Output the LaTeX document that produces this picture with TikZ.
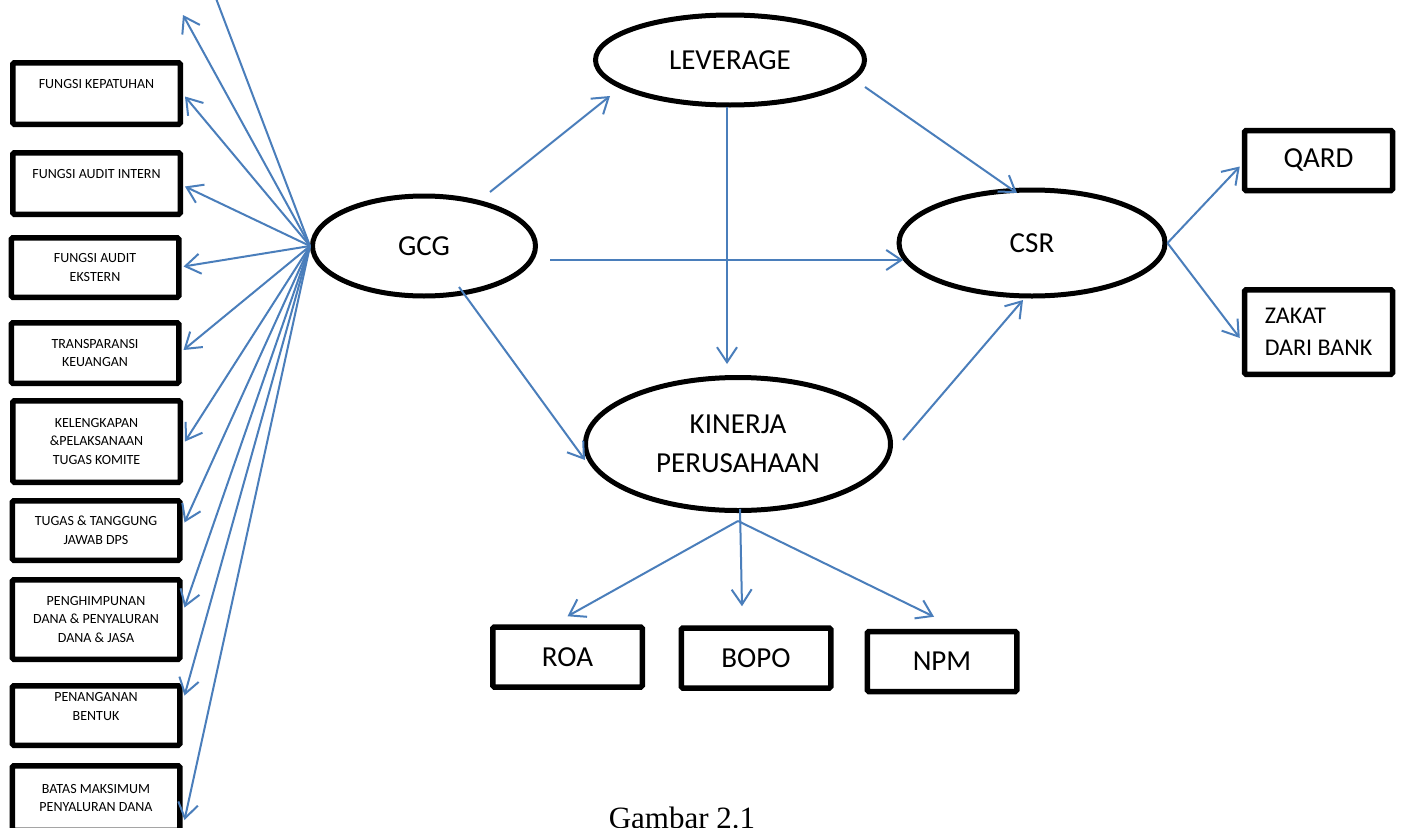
\documentclass[tikz,border=0pt]{standalone}
\usepackage{fontspec}
\setmainfont{Carlito}
\newfontfamily\capfont{Liberation Serif}
\usetikzlibrary{arrows.meta,shapes.geometric,calc}
\definecolor{lineblue}{RGB}{74,126,187}

\begin{document}
\begin{tikzpicture}[x=1pt,y=-1pt,
    oval/.style={draw,ellipse,line width=5pt,inner sep=0pt,align=center,font=\fontsize{29}{39}\selectfont},
    sidebox/.style={draw,rectangle,line width=5.5pt,rounded corners=1.5pt,inner sep=0pt,minimum width=167.5pt,align=center,font=\fontsize{14}{18.5}\selectfont},
    bigbox/.style={draw,rectangle,line width=5.5pt,rounded corners=1.5pt,inner sep=0pt,minimum width=148pt,minimum height=60pt,align=center,font=\fontsize{29}{31}\selectfont},
    arr/.style={draw=lineblue,line width=2pt,-{Straight Barb[length=15pt,width=20pt]}}]
        \useasboundingbox (0,0) rectangle (1405,827);
        \fill[white] (0,0) rectangle (1405,827);
        \clip (0,0) rectangle (1405,827);
        %% Ovals
        \node[oval,minimum width=223pt,minimum height=100pt] (gcg) at (424,246) {GCG};
        \node[oval,minimum width=269pt,minimum height=90pt] (lev) at (730,60) {LEVERAGE};
        \node[oval,minimum width=305pt,minimum height=133pt] (kin) at (738,444) {KINERJA\\PERUSAHAAN};
        \node[oval,minimum width=266pt,minimum height=106pt] (csr) at (1032,243) {CSR};
        %% GCG indicators
        \node[sidebox,minimum height=61.5pt] (kep) at (96.5,93.5) {FUNGSI KEPATUHAN\\~};
        \node[sidebox,minimum height=61.5pt] (intern) at (96.5,183.5) {FUNGSI AUDIT INTERN\\~};
        \node[sidebox,minimum height=59.5pt] (ekstern) at (95,267.5) {FUNGSI AUDIT\\EKSTERN};
        \node[sidebox,minimum height=60.5pt] (transp) at (95,353) {TRANSPARANSI\\KEUANGAN};
        \node[sidebox,minimum height=81.5pt] (komite) at (96.5,441.5) {KELENGKAPAN\\\&PELAKSANAAN\\TUGAS KOMITE};
        \node[sidebox,minimum height=59.5pt] (dps) at (96,530.5) {TUGAS \& TANGGUNG\\JAWAB DPS};
        \node[sidebox,minimum height=79.5pt] (dana) at (96,619.5) {PENGHIMPUNAN\\DANA \& PENYALURAN\\DANA \& JASA};
        \node[sidebox,minimum height=59.5pt] (konflik) at (96,715.5) {PENANGANAN\\BENTUK\\~};
        \node[sidebox,minimum height=64.5pt] (batas) at (96,798) {BATAS MAKSIMUM\\PENYALURAN DANA};
        \coordinate (up1) at (183,15);
        \coordinate (up2) at (209,-20);
        %% CSR indicators
        \node[bigbox] (qard) at (1318.5,160.5) {QARD};
        \node[bigbox,minimum height=84.5pt,align=left,font=\fontsize{24}{32}\selectfont] (zakat) at (1318.5,332) {ZAKAT\\DARI BANK};
        %% Kinerja indicators
        \node[bigbox,minimum width=149.5pt] (roa) at (567.5,657) {ROA};
        \node[bigbox,minimum width=149.5pt] (bopo) at (756,658) {BOPO};
        \node[bigbox,minimum width=149.5pt] (npm) at (942,661.5) {NPM};
        %% Caption
        \node[anchor=base,font=\capfont\fontsize{31}{37}\selectfont] (cap) at (682,828) {Gambar 2.1};
        %% Arrows
        \draw[arr] (gcg.west) -- (up1);
        \draw[draw=lineblue,line width=2pt] (gcg.west) -- (up2);
        \foreach \b/\s in {kep/-3,intern/-3,ekstern/1,transp/3,komite/0,dps/8,dana/12,konflik/20,batas/-22}
            \draw[arr] (gcg.west) -- ([yshift=\s pt,xshift=2pt]\b.east);
        \draw[arr] ($(gcg)+(66,-54)$) -- ($(lev)+(-120,36)$);
        \draw[arr] ($(lev)+(135,27)$) -- ($(csr)+(-15,-50)$);
        \draw[arr] ($(lev)+(-3,47)$) -- ($(kin)+(-11,-80)$);
        \draw[arr] ($(gcg)+(126,14)$) -- ($(csr)+(-129,17)$);
        \draw[arr] ($(gcg)+(35,41)$) -- ($(kin)+(-153,16)$);
        \draw[arr] ($(kin)+(165,-4)$) -- ($(csr)+(-9,57)$);
        \draw[arr] (csr.east) -- ($(qard.west)+(-2,6)$);
        \draw[arr] (csr.east) -- ($(zakat.west)+(-2,6)$);
        \draw[arr] ($(kin.south)+(0,8)$) -- ($(roa.north)+(0,-8)$);
        \draw[arr] ($(kin.south)+(2,-4)$) -- ($(bopo.north)+(-14,-19)$);
        \draw[arr] ($(kin.south)+(0,8)$) -- ($(npm.north)+(-8,-12)$);
\end{tikzpicture}
\end{document}
